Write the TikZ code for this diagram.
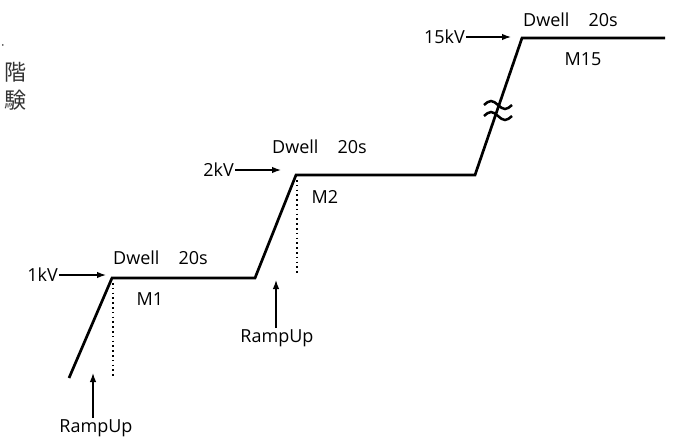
\documentclass[tikz,border=0pt]{standalone}
\usepackage{fontspec}
\setmainfont{Open Sans}
\newfontfamily\jpfont{Noto Sans CJK JP}
\usetikzlibrary{arrows.meta}
\tikzset{
  mainline/.style={line width=2.7pt, line join=miter},
  dotline/.style={line width=1.6pt, dash pattern=on 1.6pt off 3.2pt},
  lbl/.style={font=\fontsize{18}{21}\selectfont, inner sep=1pt},
  jp/.style={font=\jpfont\fontsize{22}{24}\selectfont, inner sep=0pt, anchor=east, text=black!80},
  pointer/.style={line width=1.3pt, -{Latex[length=9pt,width=6.5pt]}},
  breakmark/.style={line width=2.5pt}
}
\begin{document}
\begin{tikzpicture}[x=1pt,y=-1pt]
\useasboundingbox (0,0) rectangle (674,437);
% side text (left margin)
\node[jp, font=\jpfont\fontsize{8}{9}\selectfont] (j1) at (7,47) {・};
\node[jp] (j2) at (27,72) {階};
\node[jp] (j3) at (27,100) {験};
% profile corners
\coordinate (p0) at (69,378);
\coordinate (p1) at (112,278);
\coordinate (p2) at (255,278);
\coordinate (p3) at (296,175);
\coordinate (p4) at (475,175);
\coordinate (p5) at (522,38);
\coordinate (p6) at (665,38);
\draw[mainline] (p0) -- (p1) -- (p2) -- (p3) -- (p4) -- (p5) -- (p6);
% break mark
\draw[breakmark] (484,105) sin (491,101) cos (498,105) sin (505,109) cos (512,105);
\draw[breakmark] (484,116) sin (491,112) cos (498,116) sin (505,120) cos (512,116);
% dotted drops
\coordinate (d1a) at (113,283);
\coordinate (d1b) at (113,378);
\coordinate (d2a) at (297,180);
\coordinate (d2b) at (297,274);
\draw[dotline] (d1a) -- (d1b);
\draw[dotline] (d2a) -- (d2b);
% dwell labels
\node[lbl, anchor=west] (dw1) at (112,258) {Dwell\hspace{19pt}20s};
\node[lbl, anchor=west] (dw2) at (271,147) {Dwell\hspace{19pt}20s};
\node[lbl, anchor=west] (dw3) at (522,20) {Dwell\hspace{19pt}20s};
% M labels
\node[lbl] (m1) at (150,299) {M1};
\node[lbl] (m2) at (325,197) {M2};
\node[lbl] (m15) at (583,59) {M15};
% voltage labels and arrows
\node[lbl, anchor=east] (kv1) at (59,275) {1kV};
\node[lbl, anchor=east] (kv2) at (235,170) {2kV};
\node[lbl, anchor=east] (kv3) at (466,37) {15kV};
\coordinate (a1) at (106,275);
\coordinate (a2) at (281,170);
\coordinate (a3) at (511,37);
\draw[pointer] (kv1.east) -- (a1);
\draw[pointer] (kv2.east) -- (a2);
\draw[pointer] (kv3.east) -- (a3);
% ramp up labels
\node[lbl] (ru1) at (96,428) {RampUp};
\node[lbl] (ru2) at (277,338) {RampUp};
\coordinate (t1) at (93,373);
\coordinate (t2) at (276,280);
\draw[pointer] (ru1.north -| t1) -- (t1);
\draw[pointer] (ru2.north -| t2) -- (t2);
\end{tikzpicture}
\end{document}
